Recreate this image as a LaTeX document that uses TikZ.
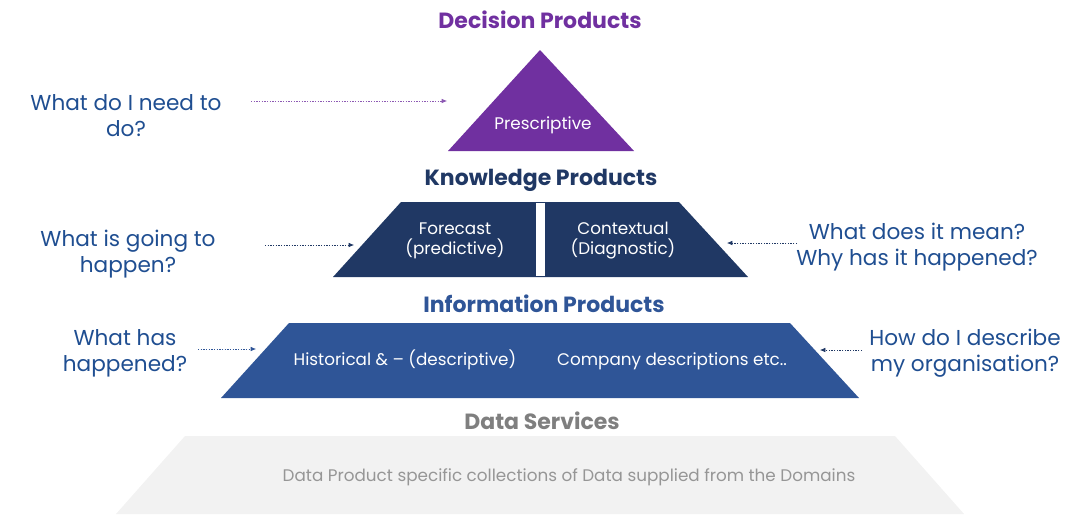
\documentclass[tikz,border=0pt]{standalone}
\usepackage{fontspec}
\setmainfont{Poppins}
\usetikzlibrary{arrows.meta}
\definecolor{decision}{RGB}{112,48,160}
\definecolor{knowledge}{RGB}{32,56,100}
\definecolor{information}{RGB}{47,85,151}
\definecolor{dataserv}{RGB}{242,242,242}
\definecolor{datahead}{RGB}{127,127,127}
\definecolor{datatext}{RGB}{150,150,150}
\definecolor{question}{RGB}{31,78,145}

\begin{document}
\begin{tikzpicture}[x=0.75pt,y=-0.75pt,
    heading/.style={font=\bfseries\fontsize{16.5}{19}\selectfont},
    question/.style={text=question,align=center,font=\fontsize{16.2}{19.5}\selectfont},
    layertext/.style={text=white,align=center,font=\fontsize{12.6}{15}\selectfont},
    pointer/.style={line width=0.5pt,dash pattern=on 1pt off 1pt,-{Latex[length=4pt,width=3.5pt]}}]

    \useasboundingbox (0,0) rectangle (1080,514);

    % layers
    \fill[decision] (540,50) -- (634,151) -- (448,151) -- cycle; % decision
    \fill[knowledge] (401,202) -- (679,202) -- (748,277) -- (333,277) -- cycle; % knowledge
    \fill[white] (536,203) rectangle (545,276); % divider
    \fill[information] (289,323) -- (790,323) -- (859,398) -- (221,398) -- cycle; % information
    \fill[dataserv] (185,436) -- (895,436) -- (964,514) -- (116,514) -- cycle; % data services

    % nodes (headings)
    \node[heading,text=decision] (dechead) at (540,20) {Decision Products};
    \node[heading,text=knowledge] (knowhead) at (541,180) {Knowledge Products};
    \node[heading,text=information] (infohead) at (544,304) {Information Products};
    \node[heading,text=datahead] (datahead) at (542,421) {Data Services};

    % nodes (layer texts)
    \node[layertext] (presc) at (543,125) {Prescriptive};
    \node[layertext] (forecast) at (455,241) {Forecast\\(predictive)};
    \node[layertext] (context) at (623,241) {Contextual\\(Diagnostic)};
    \node[layertext] (hist) at (405,360) {Historical \& – (descriptive)};
    \node[layertext] (company) at (672,361) {Company descriptions etc..};
    \node[layertext,text=datatext] (collect) at (569,477) {Data Product specific collections of Data supplied from the Domains};

    % nodes (questions)
    \node[question] (qdo) at (126,116) {What do I need to\\do?};
    \node[question] (qgoing) at (128,254) {What is going to\\happen?};
    \node[question] (qhas) at (125,353) {What has\\happened?};
    \node[question] (qmean) at (917,247) {What does it mean?\\Why has it happened?};
    \node[question] (qdescr) at (965,353) {How do I describe\\my organisation?};

    % pointer ends
    \coordinate (pdo) at (251,101);
    \coordinate (tdo) at (447,101);
    \coordinate (pgoing) at (265,245);
    \coordinate (tgoing) at (354,245);
    \coordinate (phas) at (198,349);
    \coordinate (thas) at (256,349);
    \coordinate (pmean) at (797,243);
    \coordinate (tmean) at (727,243);
    \coordinate (pdescr) at (862,350);
    \coordinate (tdescr) at (820,350);

    % edges
    \draw[pointer,decision!80] (pdo) -- (tdo); % qdo -> decision
    \draw[pointer,knowledge] (pgoing) -- (tgoing); % qgoing -> knowledge
    \draw[pointer,information] (phas) -- (thas); % qhas -> information
    \draw[pointer,knowledge] (pmean) -- (tmean); % qmean -> knowledge
    \draw[pointer,knowledge] (pdescr) -- (tdescr); % qdescr -> information

\end{tikzpicture}
\end{document}
